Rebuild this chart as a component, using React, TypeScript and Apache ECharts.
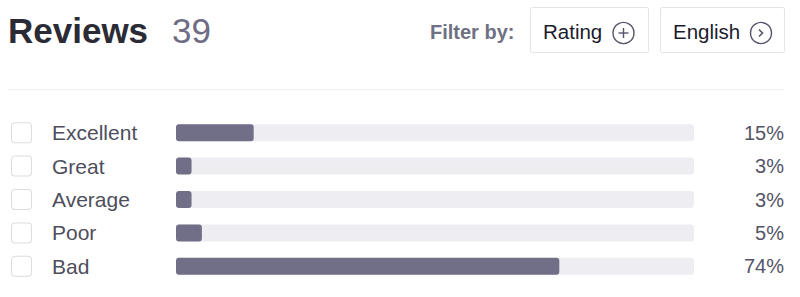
import React, { useEffect, useRef } from "react";
import * as echarts from "echarts";

// Rating breakdown
const categories = ["Excellent", "Great", "Average", "Poor", "Bad"];
const shares = [15, 3, 3, 5, 74];
const reviewCount = 39;
const filterButtons = ["Rating", "English"];

const FONT = "'Liberation Sans', Arial, Helvetica, sans-serif";

export default function App() {
  const ref = useRef<HTMLDivElement>(null);

  useEffect(() => {
    document.body.style.margin = "0";
    if (!ref.current) return;
    const chart = echarts.init(ref.current, undefined, { renderer: "svg" });

    const option: echarts.EChartsOption = {
      animation: false,
      backgroundColor: "#ffffff",
      textStyle: { fontFamily: FONT },
      grid: { left: 176, right: 106, top: 116, bottom: 14 },
      xAxis: { type: "value", min: 0, max: 100, show: false },
      yAxis: [
        {
          type: "category",
          data: categories,
          inverse: true,
          axisLine: { show: false },
          axisTick: { show: false },
          splitLine: { show: false },
          axisLabel: {
            margin: 164,
            align: "left",
            formatter: (v: string) => `{box|}{name|${v}}`,
            rich: {
              box: {
                width: 19,
                height: 19,
                borderColor: "#dcdce1",
                borderWidth: 1,
                borderRadius: 3,
                backgroundColor: "#ffffff",
              },
              name: {
                fontFamily: FONT,
                fontSize: 21,
                color: "#4e4e5c",
                padding: [0, 0, 0, 21],
              },
            },
          },
        },
        {
          type: "category",
          data: categories,
          inverse: true,
          position: "right",
          axisLine: { show: false },
          axisTick: { show: false },
          splitLine: { show: false },
          axisLabel: {
            margin: 90,
            align: "right",
            fontFamily: FONT,
            fontSize: 20,
            color: "#545466",
            formatter: (_v: string, i: number) => `${shares[i]}%`,
          },
        },
      ],
      series: [
        {
          type: "bar",
          data: shares,
          barWidth: 17,
          showBackground: true,
          backgroundStyle: { color: "#eeeef2", borderRadius: 3 },
          itemStyle: { color: "#716f88", borderRadius: 3 },
        },
      ],
      graphic: [
        {
          type: "text",
          left: 8,
          top: 13,
          style: {
            text: "Reviews",
            font: `bold 35px ${FONT}`,
            fill: "#2b2b36",
          },
        },
        {
          type: "text",
          left: 172,
          top: 13,
          style: {
            text: String(reviewCount),
            font: `35px ${FONT}`,
            fill: "#6e6d85",
          },
        },
        {
          type: "text",
          left: 430,
          top: 22,
          style: {
            text: "Filter by:",
            font: `bold 20px ${FONT}`,
            fill: "#707083",
          },
        },
        // Rating button
        {
          type: "rect",
          shape: { x: 530.5, y: 7.5, width: 118, height: 45, r: 2 },
          style: { fill: "#ffffff", stroke: "#e4e4e8", lineWidth: 1 },
        },
        {
          type: "text",
          left: 543,
          top: 21,
          style: { text: filterButtons[0], font: `20.5px ${FONT}`, fill: "#1b1b2e" },
        },
        {
          type: "circle",
          shape: { cx: 623.5, cy: 33, r: 10.5 },
          style: { fill: "none", stroke: "#55556a", lineWidth: 1.4 },
        },
        {
          type: "line",
          shape: { x1: 618.5, y1: 33, x2: 628.5, y2: 33 },
          style: { stroke: "#55556a", lineWidth: 1.4 },
        },
        {
          type: "line",
          shape: { x1: 623.5, y1: 28, x2: 623.5, y2: 38 },
          style: { stroke: "#55556a", lineWidth: 1.4 },
        },
        // Language button
        {
          type: "rect",
          shape: { x: 660.5, y: 7.5, width: 124, height: 45, r: 2 },
          style: { fill: "#ffffff", stroke: "#e4e4e8", lineWidth: 1 },
        },
        {
          type: "text",
          left: 673,
          top: 21,
          style: { text: filterButtons[1], font: `20.5px ${FONT}`, fill: "#1b1b2e" },
        },
        {
          type: "circle",
          shape: { cx: 761, cy: 33, r: 10.5 },
          style: { fill: "none", stroke: "#55556a", lineWidth: 1.4 },
        },
        {
          type: "polyline",
          shape: { points: [[759, 29.5], [762.5, 33], [759, 36.5]] },
          style: { fill: "none", stroke: "#55556a", lineWidth: 1.6 },
        },
        // Divider under the header
        {
          type: "line",
          shape: { x1: 8, y1: 89.5, x2: 784, y2: 89.5 },
          style: { stroke: "#f1f1f3", lineWidth: 1.5 },
        },
      ],
    };

    chart.setOption(option);
    return () => chart.dispose();
  }, []);

  return <div ref={ref} style={{ width: 800, height: 297 }} />;
}
